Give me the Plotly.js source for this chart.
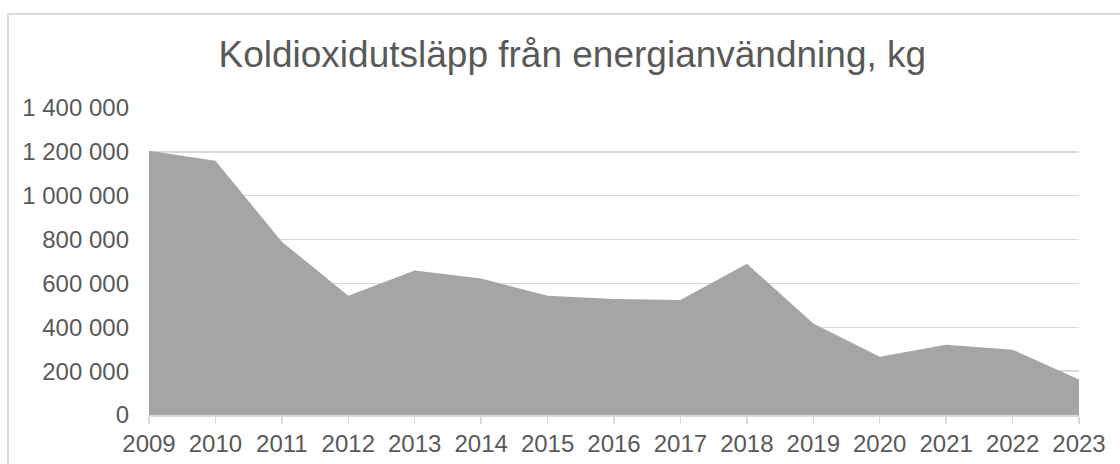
<!DOCTYPE html>
<html>
<head>
<meta charset="utf-8">
<script src="https://cdn.plot.ly/plotly-3.0.1.min.js"></script>
<style>
  html, body { margin: 0; padding: 0; background: #fff; overflow: hidden; }
  #chart { width: 1120px; height: 464px; position: absolute; left: 0; top: 0; }
  #frame { position: absolute; left: 7px; top: 13px; width: 1300px; height: 600px;
           border: 2px solid #d9d9d9; pointer-events: none; box-sizing: border-box; }
</style>
</head>
<body>
<div id="chart"></div>
<div id="frame"></div>
<script>
const years = [2009, 2010, 2011, 2012, 2013, 2014, 2015, 2016, 2017, 2018, 2019, 2020, 2021, 2022, 2023];
const emissions = [1205000, 1159000, 790000, 544000, 659000, 622000, 544000, 529000, 525000, 690000, 417000, 266000, 320000, 298000, 162000];
const yTicks = [0, 200000, 400000, 600000, 800000, 1000000, 1200000, 1400000];
const yTickLabels = ['0', '200 000', '400 000', '600 000', '800 000', '1 000 000', '1 200 000', '1 400 000'];
const titleText = 'Koldioxidutsläpp från energianvändning, kg';

const trace = {
  x: years,
  y: emissions,
  type: 'scatter',
  mode: 'lines',
  fill: 'tozeroy',
  fillcolor: '#a5a5a5',
  line: { width: 0, color: '#a5a5a5' },
  hoverinfo: 'x+y'
};

const layout = {
  width: 1120,
  height: 464,
  margin: { l: 149, r: 41, t: 108, b: 48.5, pad: 0 },
  paper_bgcolor: 'rgba(0,0,0,0)',
  plot_bgcolor: 'rgba(0,0,0,0)',
  showlegend: false,
  font: { family: 'Liberation Sans, Arial, sans-serif', color: '#595959', size: 24 },
  title: {
    text: titleText,
    font: { family: 'Liberation Sans, Arial, sans-serif', size: 37, color: '#595959' },
    xref: 'container', yref: 'container',
    x: 0.511, xanchor: 'center',
    y: 0.884, yanchor: 'middle'
  },
  xaxis: {
    range: [2009, 2023],
    tickvals: years,
    ticktext: years.map(String),
    ticks: 'outside',
    ticklen: 7,
    tickwidth: 1.5,
    tickcolor: '#d9d9d9',
    showline: true,
    linecolor: '#d9d9d9',
    linewidth: 1.5,
    showgrid: false,
    zeroline: false,
    fixedrange: true,
    tickfont: { size: 24, color: '#595959' }
  },
  yaxis: {
    range: [0, 1400000],
    tickvals: yTicks,
    ticktext: yTickLabels,
    ticks: '',
    ticklabelstandoff: 19,
    showgrid: true,
    gridcolor: '#d9d9d9',
    gridwidth: 1.5,
    zeroline: false,
    showline: false,
    fixedrange: true,
    tickfont: { size: 24, color: '#595959' }
  }
};

Plotly.newPlot('chart', [trace], layout, { displayModeBar: false, staticPlot: true });
</script>
</body>
</html>
